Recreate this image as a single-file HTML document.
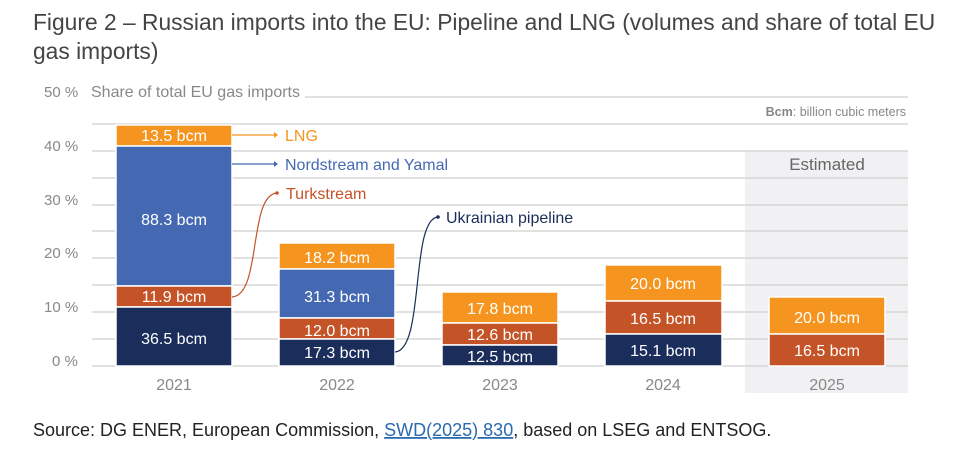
<!DOCTYPE html>
<html><head><style>
body{margin:0;background:#fff;width:973px;height:453px;overflow:hidden;font-family:"Liberation Sans",sans-serif}
</style></head><body>
<svg width="973" height="453" xmlns="http://www.w3.org/2000/svg" style="position:absolute;left:0;top:0">
<text x="33" y="30" font-size="22.8" fill="#444">Figure 2 – Russian imports into the EU: Pipeline and LNG (volumes and share of total EU</text>
<text x="33" y="59" font-size="22.8" fill="#444">gas imports)</text>
<rect x="745" y="151" width="163" height="242" fill="#f1f1f3"/>
<g stroke="#cfcfcf" stroke-width="1.2">
<line x1="305" y1="97" x2="908" y2="97"/>
<line x1="92" y1="124" x2="908" y2="124"/><line x1="92" y1="151" x2="908" y2="151"/>
<line x1="92" y1="178" x2="908" y2="178"/><line x1="92" y1="205" x2="908" y2="205"/>
<line x1="92" y1="231" x2="908" y2="231"/><line x1="92" y1="258" x2="908" y2="258"/>
<line x1="92" y1="285" x2="908" y2="285"/><line x1="92" y1="312" x2="908" y2="312"/>
<line x1="92" y1="339" x2="908" y2="339"/><line x1="92" y1="366" x2="908" y2="366"/>
</g>
<g font-size="15" fill="#888">
<text x="44" y="97">50 %</text><text x="91" y="97" font-size="16">Share of total EU gas imports</text>
<text x="44" y="151">40 %</text><text x="44" y="205">30 %</text><text x="44" y="258">20 %</text>
<text x="44" y="312">10 %</text><text x="52" y="366">0 %</text>
</g>
<text x="906" y="116" font-size="12.5" fill="#888" text-anchor="end"><tspan font-weight="bold">Bcm</tspan>: billion cubic meters</text>
<text x="827" y="170" font-size="17" fill="#666" text-anchor="middle">Estimated</text>
<g stroke="#fff" stroke-width="1.5">
<rect x="116" y="125" width="116" height="21" fill="#f5951f"/>
<rect x="116" y="146" width="116" height="140" fill="#4469b2"/>
<rect x="116" y="286" width="116" height="21" fill="#c45427"/>
<rect x="116" y="307" width="116" height="59" fill="#1b2d5b"/>
<rect x="279" y="243" width="116" height="26" fill="#f5951f"/>
<rect x="279" y="269" width="116" height="49" fill="#4469b2"/>
<rect x="279" y="318" width="116" height="21" fill="#c45427"/>
<rect x="279" y="339" width="116" height="27" fill="#1b2d5b"/>
<rect x="442" y="292" width="116" height="31" fill="#f5951f"/>
<rect x="442" y="323" width="116" height="22" fill="#c45427"/>
<rect x="442" y="345" width="116" height="21" fill="#1b2d5b"/>
<rect x="605" y="265" width="117" height="36" fill="#f5951f"/>
<rect x="605" y="301" width="117" height="33" fill="#c45427"/>
<rect x="605" y="334" width="117" height="32" fill="#1b2d5b"/>
<rect x="769" y="297" width="116" height="37" fill="#f5951f"/>
<rect x="769" y="334" width="116" height="32" fill="#c45427"/>
</g>
<g font-size="16" fill="#fff" text-anchor="middle">
<text x="174" y="141">13.5 bcm</text><text x="174" y="225">88.3 bcm</text>
<text x="174" y="302">11.9 bcm</text><text x="174" y="344">36.5 bcm</text>
<text x="337" y="263">18.2 bcm</text><text x="337" y="302">31.3 bcm</text>
<text x="337" y="336">12.0 bcm</text><text x="337" y="358">17.3 bcm</text>
<text x="500" y="314">17.8 bcm</text><text x="500" y="340">12.6 bcm</text><text x="500" y="362">12.5 bcm</text>
<text x="663" y="289">20.0 bcm</text><text x="663" y="324">16.5 bcm</text><text x="663" y="356">15.1 bcm</text>
<text x="827" y="323">20.0 bcm</text><text x="827" y="356">16.5 bcm</text>
</g>
<g font-size="16" fill="#888" text-anchor="middle">
<text x="174" y="390">2021</text><text x="337" y="390">2022</text><text x="500" y="390">2023</text>
<text x="663" y="390">2024</text><text x="827" y="390">2025</text>
</g>
<line x1="232" y1="135" x2="276" y2="135" stroke="#f5951f" stroke-width="1.2"/><path d="M274,132 L278,135 L274,138Z" fill="#f5951f"/>
<line x1="232" y1="164" x2="276" y2="164" stroke="#4469b2" stroke-width="1.2"/><path d="M274,161 L278,164 L274,167Z" fill="#4469b2"/>
<path d="M232,297 C262,295 248,195 277,193" stroke="#c45427" stroke-width="1.2" fill="none"/><circle cx="277" cy="193" r="1.8" fill="#c45427"/>
<path d="M395,352 C425,350 410,219 438,217" stroke="#1b2d5b" stroke-width="1.2" fill="none"/><circle cx="438" cy="217" r="1.8" fill="#1b2d5b"/>
<text x="285" y="141" font-size="16" fill="#f5951f">LNG</text>
<text x="285" y="170" font-size="16" fill="#4469b2">Nordstream and Yamal</text>
<text x="286" y="199" font-size="16" fill="#c45427">Turkstream</text>
<text x="446" y="223" font-size="16" fill="#1b2d5b">Ukrainian pipeline</text>
<text x="33" y="436" font-size="18" fill="#222">Source: DG ENER, European Commission, <tspan fill="#2a6bb0" text-decoration="underline">SWD(2025) 830</tspan>, based on LSEG and ENTSOG.</text>
</svg>
</body></html>
